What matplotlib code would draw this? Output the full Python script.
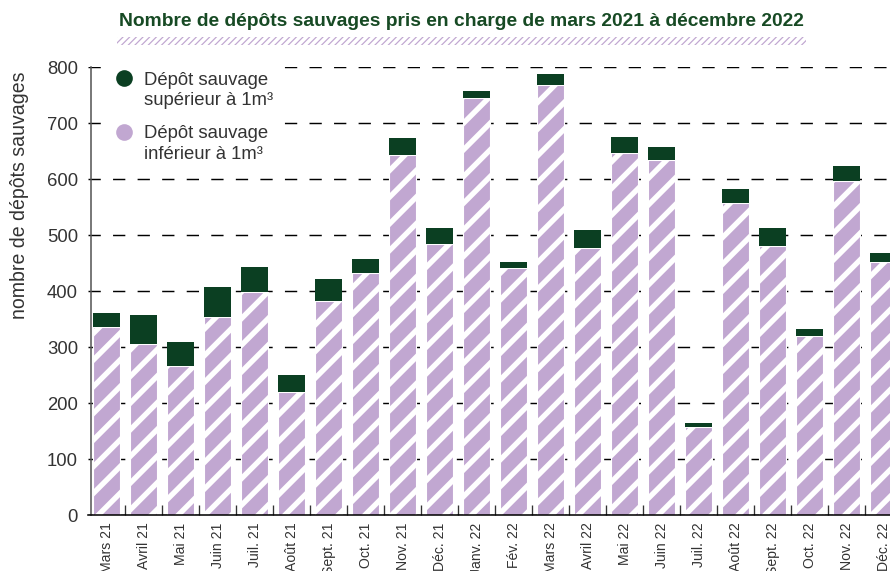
import matplotlib
matplotlib.use("Agg")
import matplotlib.pyplot as plt
import numpy as np
from matplotlib.lines import Line2D
from matplotlib.patches import Rectangle

months = ['Mars 21', 'Avril 21', 'Mai 21', 'Juin 21', 'Juil. 21', 'Août 21',
          'Sept. 21', 'Oct. 21', 'Nov. 21', 'Déc. 21', 'Janv. 22', 'Fév. 22',
          'Mars 22', 'Avril 22', 'Mai 22', 'Juin 22', 'Juil. 22', 'Août 22',
          'Sept. 22', 'Oct. 22', 'Nov. 22', 'Déc. 22']
small_dumps = [336, 306, 267, 354, 399, 219, 383, 433, 644, 484, 745, 442,
               769, 478, 647, 635, 158, 558, 481, 320, 597, 452]
large_dumps = [25, 51, 43, 53, 45, 32, 39, 25, 29, 29, 13, 11,
               20, 32, 29, 23, 7, 25, 32, 13, 27, 16]

GREEN = '#0b3f22'
PURPLE = '#c1a7d1'
TITLE_GREEN = '#174a24'
TEXT = '#333333'

plt.rcParams['font.family'] = ['Liberation Sans', 'DejaVu Sans']
plt.rcParams['hatch.linewidth'] = 2.4

DPI = 160
fig = plt.figure(figsize=(890 / DPI, 571 / DPI), dpi=DPI)
ax = fig.add_axes([0.0994, 0.098, 0.9006, 0.785])

x = np.arange(len(months))
ax.bar(x, small_dumps, width=0.73, color=PURPLE, edgecolor='white',
       linewidth=0.5, hatch='//', zorder=2)
ax.bar(x, large_dumps, width=0.73, bottom=small_dumps, color=GREEN,
       edgecolor='none', zorder=2)

ax.set_xlim(-0.5, 21.17)
ax.set_ylim(0, 801)
ax.set_yticks(range(0, 801, 100))
ax.yaxis.grid(True, color='black', linewidth=0.65, dashes=(8.5, 8.5), zorder=0)
ax.set_axisbelow(True)

for s in ('top', 'right'):
    ax.spines[s].set_visible(False)
ax.spines['left'].set_position(('data', -0.42))
ax.spines['left'].set_color('#555555')
ax.spines['left'].set_linewidth(0.7)
ax.spines['bottom'].set_color('black')
ax.spines['bottom'].set_linewidth(0.7)

ax.tick_params(axis='y', length=0, labelsize=8.3, labelcolor=TEXT, pad=6)
ax.set_xticks(x)
ax.set_xticklabels(months, rotation=90, va='top', ha='center',
                   fontsize=6.3, color=TEXT)
ax.set_xticks(x[:-1] + 0.5, minor=True)
ax.tick_params(axis='x', which='major', length=0, pad=3.3)
ax.tick_params(axis='x', which='minor', direction='in', length=4.5,
               width=0.6, color='#333333')

ax.set_ylabel('nombre de dépôts sauvages', fontsize=8.8, color=TEXT)
ax.yaxis.set_label_coords(-0.074, 0.714)

# two small legends so the dot sits on the first line of each label
leg_kw = dict(loc='upper left', frameon=True, framealpha=1, facecolor='white',
              edgecolor='none', fancybox=False, fontsize=8.3,
              handletextpad=0.5, labelspacing=0.2, borderpad=0.3,
              handlelength=1.2)
blank = Line2D([], [], marker='none', linestyle='none')
big_dot = Line2D([], [], marker='o', linestyle='none', markersize=7.5,
                 markerfacecolor=GREEN, markeredgecolor='none')
small_dot = Line2D([], [], marker='o', linestyle='none', markersize=7.5,
                   markerfacecolor=PURPLE, markeredgecolor='none')
leg1 = ax.legend([big_dot, blank], ['Dépôt sauvage', 'supérieur à 1m³'],
                 bbox_to_anchor=(0.012, 1.022), **leg_kw)
ax.add_artist(leg1)
leg2 = ax.legend([small_dot, blank], ['Dépôt sauvage', 'inférieur à 1m³'],
                 bbox_to_anchor=(0.012, 0.903), **leg_kw)
for leg in (leg1, leg2):
    for t in leg.get_texts():
        t.set_color(TEXT)
    leg.set_zorder(3)

fig.text(0.518, 0.963,
         'Nombre de dépôts sauvages pris en charge de mars 2021 à décembre 2022',
         ha='center', va='center', fontsize=8.65, fontweight='bold',
         color=TITLE_GREEN)

band = Rectangle((117 / 890, 1 - 45 / 571), (806 - 117) / 890, 8 / 571,
                 transform=fig.transFigure, facecolor='none',
                 edgecolor=PURPLE, linewidth=0, hatch='////////')
if hasattr(band, 'set_hatch_linewidth'):
    band.set_hatch_linewidth(0.55)
fig.patches.append(band)

fig.savefig('out.png', dpi=DPI)
